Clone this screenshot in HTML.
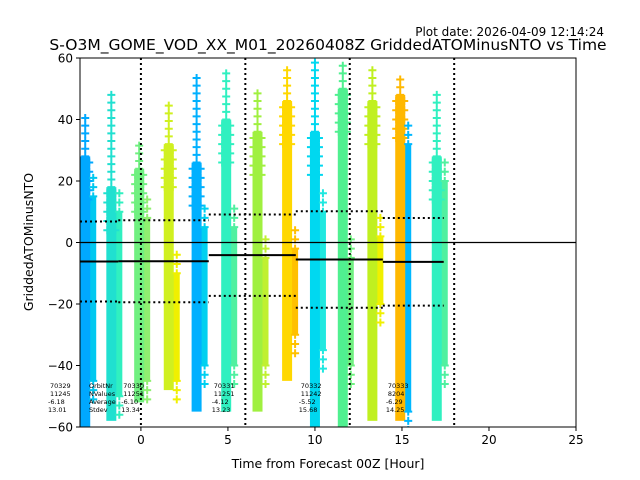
<!DOCTYPE html>
<html><head><meta charset="utf-8"><style>
body{margin:0;background:#fff}
svg{display:block;font-family:"DejaVu Sans","Liberation Sans",sans-serif}
</style></head><body>
<svg id="chart" width="640" height="480" viewBox="0 0 640 480">
<text x="604" y="36" font-size="12" text-anchor="end">Plot date: 2026-04-09 12:14:24</text>
<text x="328" y="50" font-size="15.5" text-anchor="middle">S-O3M_GOME_VOD_XX_M01_20260408Z GriddedATOMinusNTO vs Time</text>
<g id="plot"></g>
<text x="328" y="468" font-size="12.5" text-anchor="middle">Time from Forecast 00Z [Hour]</text>
<text transform="translate(33,242) rotate(-90)" font-size="12.5" text-anchor="middle">GriddedATOMinusNTO</text>
</svg>
<script>
// columns of points
const colHours = [-3.2,-1.7,-0.1,1.6,3.2,4.9,6.7,8.4,10.0,11.6,13.3,14.9,17.0];
const colLo    = [-60,-58,-52,-48,-55,-55,-55,-45,-60,-60,-58,-58,-58];
const colHi    = [28,18,24,32,26,40,36,46,36,50,46,48,28];
const colTop   = [41,48,33,46,54,55,50,57,60,58,58,55,50];
const colColor = ["#00a8ff","#20e0d0","#70f080","#d0f020","#00b0ff","#30f0c0","#a0f040","#ffd800","#00d8f0","#50f090","#c0f020","#ffb800","#30f0c0"];
const sideLo   = [-45,-50,-45,-45,-40,-40,-40,-30,-35,-40,-20,-55,-40];
const sideHi   = [15,10,8,-10,5,5,-5,-2,10,-5,2,32,20];
const sideColor= ["#00c8f0","#30f0c0","#90f070","#f0f000","#00d0f0","#50f0a0","#c0f030","#ffc000","#20e8e0","#70f080","#f0f000","#00b8ff","#50f0a0"];
// orbit stats
const orbitNr  = ["70329","70330","70331","70332","70333"];
const orbitN   = ["11245","11251","11251","11242","8204"];
const orbitAvg = [-6.18,-6.10,-4.12,-5.52,-6.29];
const orbitStd = [13.01,13.34,13.23,15.68,14.25];
const orbitStart=[-3.5,-1.3,3.9,8.9,13.9];
const orbitEnd = [-1.3,3.9,8.9,13.9,17.4];
const xTicks = [0,5,10,15,20,25];
const yTicks = [-60,-40,-20,0,20,40,60];
const vLines = [0,6,12,18];

const X0=80,X1=576,Y0=58,Y1=427,xmin=-3.5,xmax=25,ymin=-60,ymax=60;
const sx=h=>X0+(h-xmin)/(xmax-xmin)*(X1-X0);
const sy=v=>Y1-(v-ymin)/(ymax-ymin)*(Y1-Y0);
const NS="http://www.w3.org/2000/svg";
const g=document.getElementById('plot');
function mk(t,a,p){const e=document.createElementNS(NS,t);for(const k in a)e.setAttribute(k,a[k]);(p||g).appendChild(e);return e;}
const defs=mk('defs',{});
const clip=mk('clipPath',{id:'pc'},defs);mk('rect',{x:X0,y:Y0,width:X1-X0,height:Y1-Y0},clip);
const data=mk('g',{'clip-path':'url(#pc)'});
function plus(x,y,c){const p=mk('path',{d:`M${x-4} ${y}h8M${x} ${y-4}v8`,stroke:c,'stroke-width':2},data);

}
colHours.forEach((h,i)=>{
  const x=sx(h);
  const s=mk('rect',{x:x+4,y:sy(sideHi[i]),width:7,height:sy(sideLo[i])-sy(sideHi[i]),fill:sideColor[i]},data);
  
  
  const r=mk('rect',{x:x-5,y:sy(colHi[i]),width:10,height:sy(colLo[i])-sy(colHi[i]),fill:colColor[i]},data);
  
  
  for(let v=colHi[i];v<=colTop[i];v+=2.5) plus(x,sy(v),colColor[i]);
  for(let v=colHi[i]-2;v>colHi[i]-16;v-=3){plus(x-4,sy(v),colColor[i]);plus(x+4,sy(v),colColor[i]);}
  for(let v=sideHi[i];v<sideHi[i]+8;v+=3) plus(x+8,sy(v),sideColor[i]);
  for(let v=sideLo[i];v>sideLo[i]-8;v-=3) plus(x+8,sy(v),sideColor[i]);
});
// zero line
const z=mk('line',{x1:X0,x2:X1,y1:sy(0),y2:sy(0),stroke:'#000','stroke-width':1.2});


vLines.forEach(v=>{const l=mk('line',{x1:sx(v),x2:sx(v),y1:Y0,y2:Y1,stroke:'#000','stroke-width':2,'stroke-dasharray':'2,3'});

});
orbitNr.forEach((o,i)=>{
  const a=sx(orbitStart[i]),b=sx(orbitEnd[i]);
  const m=mk('line',{x1:a,x2:b,y1:sy(orbitAvg[i]),y2:sy(orbitAvg[i]),stroke:'#000','stroke-width':2});
  
  
  [orbitAvg[i]+orbitStd[i],orbitAvg[i]-orbitStd[i]].forEach(v=>{
    const d=mk('line',{x1:a,x2:b,y1:sy(v),y2:sy(v),stroke:'#000','stroke-width':2,'stroke-dasharray':'2,3'});
    
    
  });
  const bx=i==0?48:a+3;
  const t=mk('text',{x:bx,y:388,'font-size':6.5});
  
  
  const vals=[o,orbitN[i],orbitAvg[i].toFixed(2),orbitStd[i].toFixed(2)];
  vals.forEach((v,k)=>{const s=mk('tspan',{x:bx+(k<2?2:0),dy:k?8:0},t);s.textContent=v;});
});
const lab=mk('text',{x:89,y:388,'font-size':6.5});


["OrbitNr","NValues","Average","Stdev"].forEach((v,k)=>{const s=mk('tspan',{x:89,dy:k?8:0},lab);s.textContent=v;});
// axes frame
const f=mk('rect',{x:X0,y:Y0,width:X1-X0,height:Y1-Y0,fill:'none',stroke:'#000','stroke-width':1});


xTicks.forEach(v=>{mk('line',{x1:sx(v),x2:sx(v),y1:Y1,y2:Y1+4,stroke:'#000'});
  const t=mk('text',{x:sx(v),y:Y1+17,'font-size':12,'text-anchor':'middle'});t.textContent=v;
  
  });
yTicks.forEach(v=>{mk('line',{x1:X0-4,x2:X0,y1:sy(v),y2:sy(v),stroke:'#000'});
  const t=mk('text',{x:X0-7,y:sy(v)+4.5,'font-size':12,'text-anchor':'end'});t.textContent=v<0?'\u2212'+(-v):v;
  
  });
</script>
</body></html>
